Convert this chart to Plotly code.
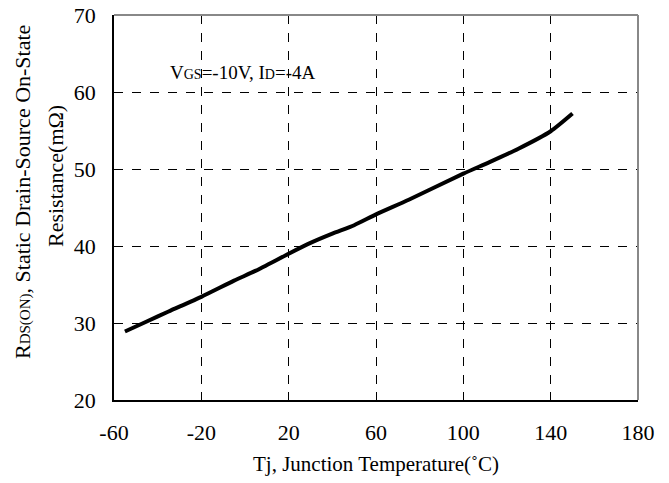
import plotly.graph_objects as go

temp_c = [-55, -45, -35, -20, -5, 5, 20, 30, 40, 50, 60, 75, 100, 112, 125, 140, 150]
rds_mohm = [28.9, 30.2, 31.5, 33.4, 35.5, 36.8, 39.0, 40.4, 41.6, 42.7, 44.1, 46.0, 49.4, 50.9, 52.6, 54.9, 57.2]
x_ticks = [-60, -20, 20, 60, 100, 140, 180]
y_ticks = [20, 30, 40, 50, 60, 70]

FONT = "Liberation Serif"

fig = go.Figure()
fig.add_trace(go.Scatter(x=temp_c, y=rds_mohm, mode="lines",
                         line=dict(color="black", width=4, shape="spline", smoothing=0.6),
                         showlegend=False, hoverinfo="skip"))

fig.update_layout(
    width=669, height=483,
    margin=dict(l=114, r=31, t=15, b=83),
    paper_bgcolor="white", plot_bgcolor="white",
    font=dict(family=FONT, color="black", size=21),
    xaxis=dict(range=[-60, 180], tickvals=x_ticks, ticktext=[str(v) for v in x_ticks],
               showgrid=True, gridcolor="black", griddash="dash", gridwidth=1,
               showline=True, linecolor="black", linewidth=1.5, mirror=False,
               ticks="inside", ticklen=8, tickcolor="black", automargin=False,
               ticklabelstandoff=12, ticklabeloverflow="allow",
               tickfont=dict(size=22, family=FONT), zeroline=False,
               title=dict(text="Tj, Junction Temperature(˚C)", font=dict(size=21, family=FONT), standoff=12)),
    yaxis=dict(range=[20, 70], tickvals=y_ticks, ticktext=[str(v) for v in y_ticks],
               showgrid=True, gridcolor="black", griddash="dash", gridwidth=1,
               showline=True, linecolor="black", linewidth=1.5, mirror=False,
               ticks="inside", ticklen=8, tickcolor="black", automargin=False,
               ticklabelstandoff=12, ticklabeloverflow="allow",
               tickfont=dict(size=22, family=FONT), zeroline=False),
)

# gray top/right border
fig.add_shape(type="line", xref="paper", yref="paper", x0=0, x1=1, y0=1, y1=1,
              line=dict(color="#888888", width=2))
fig.add_shape(type="line", xref="paper", yref="paper", x0=1, x1=1, y0=0, y1=1,
              line=dict(color="#888888", width=2))

fig.add_annotation(xref="paper", yref="paper", x=(168 - 114) / 524, y=(400 - 72) / 385,
                   xanchor="left", yanchor="middle", showarrow=False,
                   text='V<span style="font-size:14px">GS</span><span style="font-size:19px">=-10V, I</span><span style="font-size:14px">D</span><span style="font-size:19px">=-4A</span>',
                   font=dict(size=19, family=FONT))

fig.add_annotation(xref="paper", yref="paper", x=(22 - 114) / 524, y=(400 - 192) / 385,
                   xanchor="center", yanchor="middle", showarrow=False, textangle=-90,
                   text='R<span style="font-size:15px">DS(ON)</span>, Static Drain-Source On-State',
                   font=dict(size=22, family=FONT))
fig.add_annotation(xref="paper", yref="paper", x=(55 - 114) / 524, y=(400 - 176) / 385,
                   xanchor="center", yanchor="middle", showarrow=False, textangle=-90,
                   text='Resistance(mΩ)',
                   font=dict(size=22, family=FONT))

fig.write_html("out.html", config={"displayModeBar": False},
               post_script="document.body.style.margin='0px';")
